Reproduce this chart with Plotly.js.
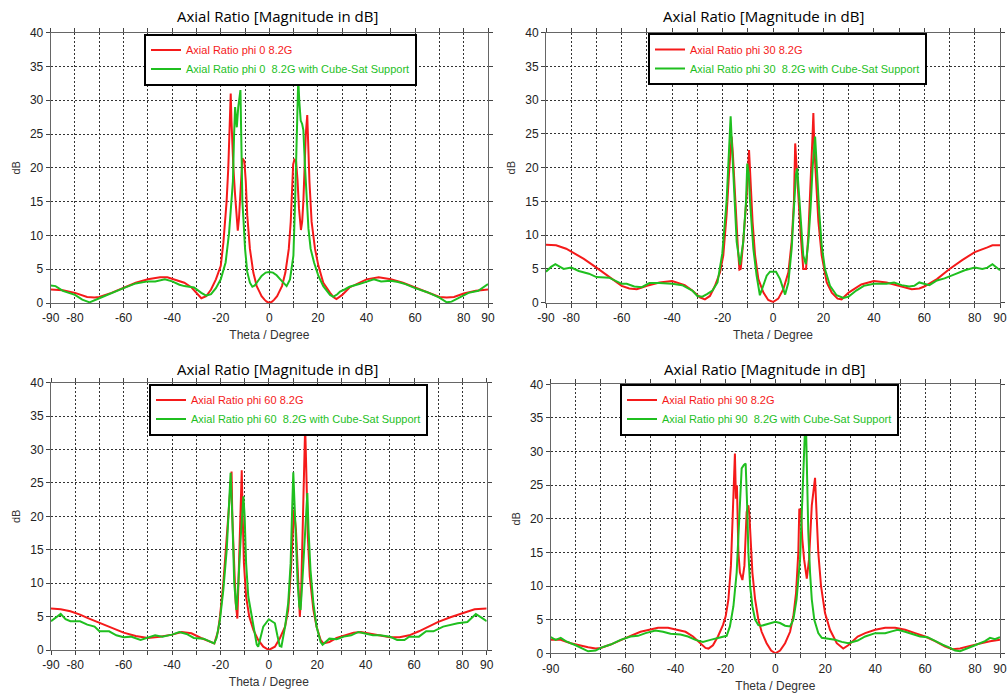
<!DOCTYPE html>
<html>
<head>
<meta charset="utf-8">
<script src="https://cdn.plot.ly/plotly-3.0.1.min.js"></script>
<style>html,body{margin:0;padding:0;background:#fff;}#chart{width:1008px;height:696px;}</style>
</head>
<body>
<div id="chart"></div>
<script>
// ---------- tick labels ----------
var xTickVals = [-90,-80,-70,-60,-50,-40,-30,-20,-10,0,10,20,30,40,50,60,70,80,90];
var xTickTextA = ['-90','-80','','-60','','-40','','-20','','0','','20','','40','','60','','80','90'];
var xTickTextB = ['-90','','','-60','','-40','','-20','','0','','20','','40','','60','','80','90'];
var yTickVals = [0,5,10,15,20,25,30,35,40];

// ---------- series names ----------
var namesRed = ['Axial Ratio phi 0 8.2G','Axial Ratio phi 30 8.2G','Axial Ratio phi 60 8.2G','Axial Ratio phi 90 8.2G'];
var namesGreen = ['Axial Ratio phi 0&nbsp; 8.2G with Cube-Sat Support','Axial Ratio phi 30&nbsp; 8.2G with Cube-Sat Support','Axial Ratio phi 60&nbsp; 8.2G with Cube-Sat Support','Axial Ratio phi 90&nbsp; 8.2G with Cube-Sat Support'];

// ---------- phi 0 ----------
var th0r = [-90,-85,-80,-75,-72,-70,-65,-60,-55,-50,-45,-42,-40,-35,-32,-30,-28,-26,-24,-22,-20,-18.9,-17.6,-16.9,-16.2,-15.9,-15.6,-15.4,-14.8,-14.1,-13.5,-13,-12.5,-12.1,-11.6,-11.1,-10.3,-9.7,-9.1,-8,-6.6,-5.2,-4,-3.2,-2,-1.1,0,1.1,2,3.2,4,5.2,6.6,8,8.8,9.4,9.8,10.3,11,11.6,12.2,13,13.5,14,14.5,15,15.6,16,16.5,17.4,18.8,20.2,22.2,25,26.6,27.6,30,33,36,40,45,50,55,60,65,70,73,76,80,85,90];
var ar0r = [2.0,1.9,1.5,0.9,0.8,0.9,1.5,2.3,3.0,3.5,3.8,3.8,3.6,3.0,2.3,1.5,0.7,1.0,2.0,3.5,5.5,9,15,20,28,31,27,25,20,16,12,10.7,12.5,15,19,21.4,21,18,13,8,4.5,2.5,1.6,1,0.5,0.2,0.0,0.2,0.5,1,1.6,2.5,4.5,8,12,16,20.5,21.2,21,18.2,14,10.8,12,15,20,25,27.8,23,18,12,8,5.5,3,1.5,0.8,0.6,1.2,2.3,2.8,3.5,3.8,3.5,3.0,2.3,1.5,0.9,0.8,0.9,1.4,1.8,2.0];
var th0g = [-90,-88,-85,-80,-77,-74,-70,-65,-60,-55,-50,-47,-43,-40,-37,-35,-31,-28,-26,-24,-22,-20,-18,-16.6,-15.5,-15,-14.5,-14.1,-13.4,-12.8,-11.9,-11.5,-11.1,-10.6,-10,-9.1,-8,-7,-6,-5.2,-3.2,-1.5,0,1.5,3,4.5,5.8,7.1,8.5,9.9,10.6,11,11.5,11.9,12.3,12.9,13.5,14,14.7,15.4,16.1,17,18.4,20.2,22.2,25,26.3,28,29.1,31,33,37,40,43,46,50,53,56,60,65,70,73,75,78,82,86,88,90];
var ar0g = [2.6,2.5,1.8,1.2,0.5,0.1,0.7,1.5,2.2,2.9,3.2,3.2,3.5,3.2,2.7,2.5,2.3,1.5,1.1,1.3,2.2,3.5,6,10.3,15,18,25,29,26,29,31.5,24,15,12,8,4.6,3,2.4,2.6,3.0,4.0,4.5,4.6,4.5,4.1,3.5,3.0,2.5,3.5,7,15,20,26,33.2,30,27,26.5,25.6,20,15,11,8,6,4,2.5,1.2,0.9,1.3,1.7,2.0,2.4,2.8,3.2,3.5,3.2,3.3,3.1,2.8,2.2,1.6,0.8,0.1,0.2,0.8,1.5,1.8,2.3,2.8];

// ---------- phi 30 ----------
var th30r = [-90,-86,-82,-80,-75,-70,-65,-60,-57,-54,-50,-45,-40,-35,-32,-29,-27,-25,-23,-21,-19.7,-18.4,-17.3,-16.4,-15.9,-15,-13.9,-13.3,-12.8,-11.8,-10.4,-9.5,-8.9,-8.1,-7.1,-5.8,-3.8,-1.9,0,2.1,4.1,6.1,7.4,8.3,8.8,9.4,10,11,12,13.1,14,14.9,15.7,16,16.4,17.1,18,19.3,21.3,23.3,25.6,27.2,30,35,40,45,50,55,58,60,65,70,75,80,85,87,90];
var ar30r = [8.6,8.5,8.0,7.6,6.5,5.2,3.8,2.5,2.1,2.0,2.5,3.0,3.2,2.6,1.8,0.8,0.5,1.0,2.5,4.5,7,13,20,24.6,22,15,8,4.9,5,9,16,22.6,18,12,7,3.5,1.5,0.4,0.1,0.6,2.0,4.5,9,15,23.6,20,15,10,5,5,10,17,25,28.1,23,18,12,7,3,1.5,0.6,0.5,1.5,2.7,3.2,3.0,2.5,2.0,2.1,2.4,3.5,5.0,6.3,7.5,8.2,8.5,8.5];
var th30g = [-90,-88,-86.3,-83,-80,-77,-73,-70,-65,-62,-60,-58,-55,-52,-49,-45,-40,-36,-32,-30,-28,-26,-24,-22,-20.1,-18.4,-17.7,-17,-16.8,-16.1,-15.3,-14.4,-13.1,-11.8,-10.7,-10.2,-9.6,-9.1,-7.8,-6.5,-5.2,-3.8,-2.5,-1.2,1.2,2.8,4.8,6.1,7.4,8.3,9.1,9.6,10.2,11,12,13,14,14.9,15.7,16.7,17.3,18.4,19.3,20.6,22.6,25.2,27.9,30,33,36,40,45,48,51,54,56,58,60,62,65,68,72,76,80,83,85,87,89,90];
var ar30g = [4.6,5.3,5.7,5.0,5.2,4.7,4.3,3.8,3.7,3.2,2.8,2.8,2.4,2.3,2.9,2.9,2.8,2.6,1.8,1.0,0.9,1.3,1.8,3.0,7.3,15,21,26,27.6,22,15,9,5.6,9,15,20.6,19,15,8,4,1.1,2.5,4,4.6,4.6,3.5,1.2,3,8,14,19,19.9,17,12,7,5.7,9,14,20,24.6,20,13,8.5,5,2.5,1.1,0.7,0.9,1.8,2.5,2.8,2.8,3.0,2.6,2.4,2.5,3.0,2.8,2.6,3.3,3.6,4.2,4.8,5.2,5.0,5.2,5.7,5.1,4.8];

// ---------- phi 60 ----------
var th60r = [-90,-86,-82,-78,-75,-70,-65,-60,-55,-50,-45,-40,-36,-32,-28,-25,-22.5,-21,-20.2,-18.8,-17.4,-16.3,-15.9,-15.4,-15.1,-14.4,-13.7,-13,-12.5,-11.9,-11.2,-10.8,-10.3,-9.4,-8.1,-6.4,-4.4,-2.3,0,2.5,4.6,6.7,8,9.1,9.8,10.4,11.2,12.2,12.8,13.3,13.9,14.5,15,15.6,16.1,16.9,18.4,19.7,21.4,22.5,25,28,32,35,38,42,46,50,54,58,62,66,70,75,80,85,90];
var ar60r = [6.2,6.1,5.8,5.3,4.8,4.1,3.3,2.6,2.1,1.8,2.0,2.3,2.7,2.5,1.8,1.3,1.0,2.8,5,10,17,23,25,26.7,20,12,7,4.7,10,18,26.9,20,13,8,5,3,1.5,0.5,0.0,0.5,1.8,3.5,6,12,18,21,18,10,5,8,18,28,33.5,25,17,11,6,3.5,1.5,1.0,1.2,1.8,2.3,2.6,2.7,2.4,2.1,1.9,1.9,2.2,2.8,3.5,4.2,4.9,5.5,6.1,6.2];
var th60g = [-90,-88,-86,-84,-82,-78,-75,-72,-70,-66,-63,-60,-57,-53,-50,-47,-44,-40,-37,-34,-31,-27,-22.6,-21.6,-20.2,-18.8,-17.4,-16.4,-15.8,-15.1,-14.3,-13.4,-12.6,-11.6,-10.5,-10,-9.4,-8.5,-7.1,-6,-5,-4.4,-3.5,-2.3,0,2.5,3.5,4.5,5.2,6.7,8,9,9.7,10.1,10.6,11.2,11.9,12.6,13.1,13.8,14.5,15.3,15.9,16.4,17.2,18.4,19.7,21.4,22.2,25,28,31,34,37,40,43,46,50,53,56,58,62,65,68,72,75,78,82,85.5,88,90];
var ar60g = [4.3,4.8,5.4,4.6,4.3,4.3,3.8,3.5,2.8,2.8,2.2,1.9,2.0,1.5,1.8,2.2,2.0,2.3,2.7,2.4,1.8,1.7,1.0,1.8,4.5,9,15,22,26.5,20,10,6,10,17,23,20,13,8,5,2.8,0.8,0.5,1.8,3.5,4.6,4.0,2.2,0.6,0.5,3.5,7,13,22,26.6,22,15,10,6.5,6,10,15,21,23.5,18,12,7,3.5,1.2,0.8,1.7,1.6,2.0,2.2,2.7,2.5,2.2,2.2,2.0,1.5,1.5,2.0,2.0,2.8,2.8,3.5,3.8,4.0,4.2,5.4,4.8,4.3];

// ---------- phi 90 ----------
var th90r = [-90,-86,-82,-78,-75,-72,-70,-66,-62,-58,-54,-50,-47,-43,-40,-36,-33,-30,-28,-26.8,-25,-23,-21,-19.9,-18.8,-17.8,-17.1,-16.4,-16.2,-15.8,-15.4,-14.8,-14.2,-13.2,-12.4,-11.5,-10.8,-10.4,-9.9,-9.2,-8.1,-6.8,-5.5,-3.5,-1.7,0,1.9,3.9,5.9,7.2,8.3,9.2,9.6,10.3,10.8,11.5,12.6,13.5,14.6,15.4,15.9,16.6,17.2,18.3,19.9,21.9,24.6,27.2,29.2,33,36,40,44,48,52,56,60,64,68,71,74,78,82,86,90];
var ar90r = [2.0,2.0,1.5,1.1,0.9,0.7,0.8,1.3,2.0,2.6,3.2,3.6,3.8,3.8,3.5,3.2,2.5,1.5,0.8,0.7,1.2,2.5,4.2,5.5,8,13,20,27,29.7,23,25,15,12,10.9,13,21,22,20.5,17,12,8,5,3.2,1.5,0.4,0.0,0.4,1.5,3.2,5.5,9,15,21.5,21,17,14,11.1,14,22,25,26.1,20,15,10,6,3.5,1.5,0.7,1.2,2.5,3.0,3.5,3.8,3.8,3.5,3.0,2.5,1.8,1.0,0.6,0.7,1.1,1.5,1.8,2.0];
var th90g = [-90,-88,-86,-84,-80,-77,-75,-72,-70,-66,-62,-58,-55,-52,-48,-45,-42,-38,-35,-32,-29,-26,-23,-20,-19.5,-18.2,-16.8,-15.5,-14.8,-14.2,-13.5,-12.6,-11.9,-11.3,-10.8,-10.1,-9.2,-8.1,-6.8,-5.5,-3.5,-1.5,0,1.9,3.9,5.9,7.2,8.5,9.9,10.5,11.2,11.9,12.3,12.8,13.2,13.9,14.6,15.6,17.2,18.6,21.2,23.9,26.6,29.2,33,36,40,44,47,49,52,55,58,61,64,67,70,72,74,77,80,84,86,88,90];
var ar90g = [2.4,2.0,2.3,1.8,1.2,0.7,0.3,0.4,0.8,1.3,2.0,2.5,2.6,3.0,3.4,3.2,2.9,2.8,2.5,2.0,1.7,2.0,2.3,2.5,2.6,4,7,12,18,24,27.5,28,28.2,22,15,10,7,5,4.2,4.1,4.3,4.6,4.7,4.5,4.1,4.0,5,8,14,20,28,33.5,33.5,25,18,12,8,5,3,2.3,2.2,2.0,1.7,1.5,1.9,2.5,3.0,3.0,3.3,3.5,3.2,2.8,2.5,2.4,1.8,1.3,0.8,0.4,0.3,0.7,1.2,1.8,2.3,2.1,2.4];

// ---------- styling ----------
var RED = '#f51a1a', GREEN = '#1fbf1f';
var W = 1008, H = 696;
var boxes = [ // plot rectangles in pixels: left, right, top, bottom
  {l:50.7, r:488, t:32.7, b:303},
  {l:546, r:1000, t:32.7, b:302.7},
  {l:51, r:486.7, t:382.7, b:650},
  {l:550.7, r:1000, t:384.3, b:653.3}
];
var titlePos = [{x:277,y:15.7},{x:763.7,y:15.7},{x:277,y:369},{x:764,y:369}];
var legendPos = [{x:144,y:33.5},{x:648,y:33},{x:149,y:383.5},{x:620,y:383.5}];

var thetas = [[th0r,th0g],[th30r,th30g],[th60r,th60g],[th90r,th90g]];
var vals = [[ar0r,ar0g],[ar30r,ar30g],[ar60r,ar60g],[ar90r,ar90g]];

var data = [];
var layout = {
  width: W, height: H,
  margin: {l:0, r:0, t:0, b:0},
  paper_bgcolor: '#ffffff', plot_bgcolor: '#ffffff',
  font: {family: 'Liberation Sans, Arial, sans-serif', size: 11, color: '#222'},
  showlegend: true,
  annotations: []
};

for (var i = 0; i < 4; i++) {
  var sfx = i === 0 ? '' : String(i + 1);
  var bx = boxes[i];
  var legKey = 'legend' + sfx;
  data.push({
    x: thetas[i][0], y: vals[i][0], type: 'scatter', mode: 'lines',
    xaxis: 'x' + sfx, yaxis: 'y' + sfx, legend: legKey,
    name: '<span style="color:' + RED + '">' + namesRed[i] + '</span>',
    line: {color: RED, width: 2}
  });
  data.push({
    x: thetas[i][1], y: vals[i][1], type: 'scatter', mode: 'lines',
    xaxis: 'x' + sfx, yaxis: 'y' + sfx, legend: legKey,
    name: '<span style="color:' + GREEN + '">' + namesGreen[i] + '</span>',
    line: {color: GREEN, width: 2}
  });
  layout['xaxis' + sfx] = {
    domain: [bx.l / W, bx.r / W], anchor: 'y' + sfx,
    range: [-90, 90], tickmode: 'array', tickvals: xTickVals,
    ticktext: i === 3 ? xTickTextB : xTickTextA,
    ticks: 'outside', ticklen: 4, tickcolor: '#444',
    showgrid: true, gridcolor: '#333333', gridwidth: 1, griddash: '2px,2px',
    zeroline: false, showline: true, linecolor: '#666666', linewidth: 1, mirror: 'ticks',
    tickfont: {family: 'Liberation Sans, Arial, sans-serif', size: 12, color: '#222'},
    title: {text: 'Theta / Degree', standoff: 6, font: {family: 'Liberation Sans, Arial, sans-serif', size: 12, color: '#333'}},
    fixedrange: true, automargin: false
  };
  layout['yaxis' + sfx] = {
    domain: [1 - bx.b / H, 1 - bx.t / H], anchor: 'x' + sfx,
    range: [0, 40], tickmode: 'array', tickvals: yTickVals,
    ticks: 'outside', ticklen: 4, tickcolor: '#444',
    showgrid: true, gridcolor: '#333333', gridwidth: 1, griddash: '2px,2px',
    zeroline: false, showline: true, linecolor: '#666666', linewidth: 1, mirror: 'ticks',
    tickfont: {family: 'Liberation Sans, Arial, sans-serif', size: 12, color: '#222'},
    title: {text: 'dB', standoff: 7, font: {family: 'Liberation Sans, Arial, sans-serif', size: 11, color: '#333'}},
    fixedrange: true, automargin: false
  };
  layout[legKey] = {
    x: legendPos[i].x / W, y: 1 - legendPos[i].y / H, xanchor: 'left', yanchor: 'top',
    xref: 'paper', yref: 'paper',
    bgcolor: '#ffffff', bordercolor: '#000000', borderwidth: 2,
    font: {family: 'Liberation Sans, Arial, sans-serif', size: 11, color: '#222'},
    itemwidth: 30, tracegroupgap: 0, traceorder: 'normal'
  };
  layout.annotations.push({
    xref: 'paper', yref: 'paper', x: titlePos[i].x / W, y: 1 - titlePos[i].y / H,
    xanchor: 'center', yanchor: 'middle', showarrow: false,
    text: 'Axial Ratio [Magnitude in dB]',
    font: {family: 'Open Sans, sans-serif', size: 15, color: '#000'}
  });
}

Plotly.newPlot('chart', data, layout, {staticPlot: true, displayModeBar: false});
</script>
</body>
</html>
